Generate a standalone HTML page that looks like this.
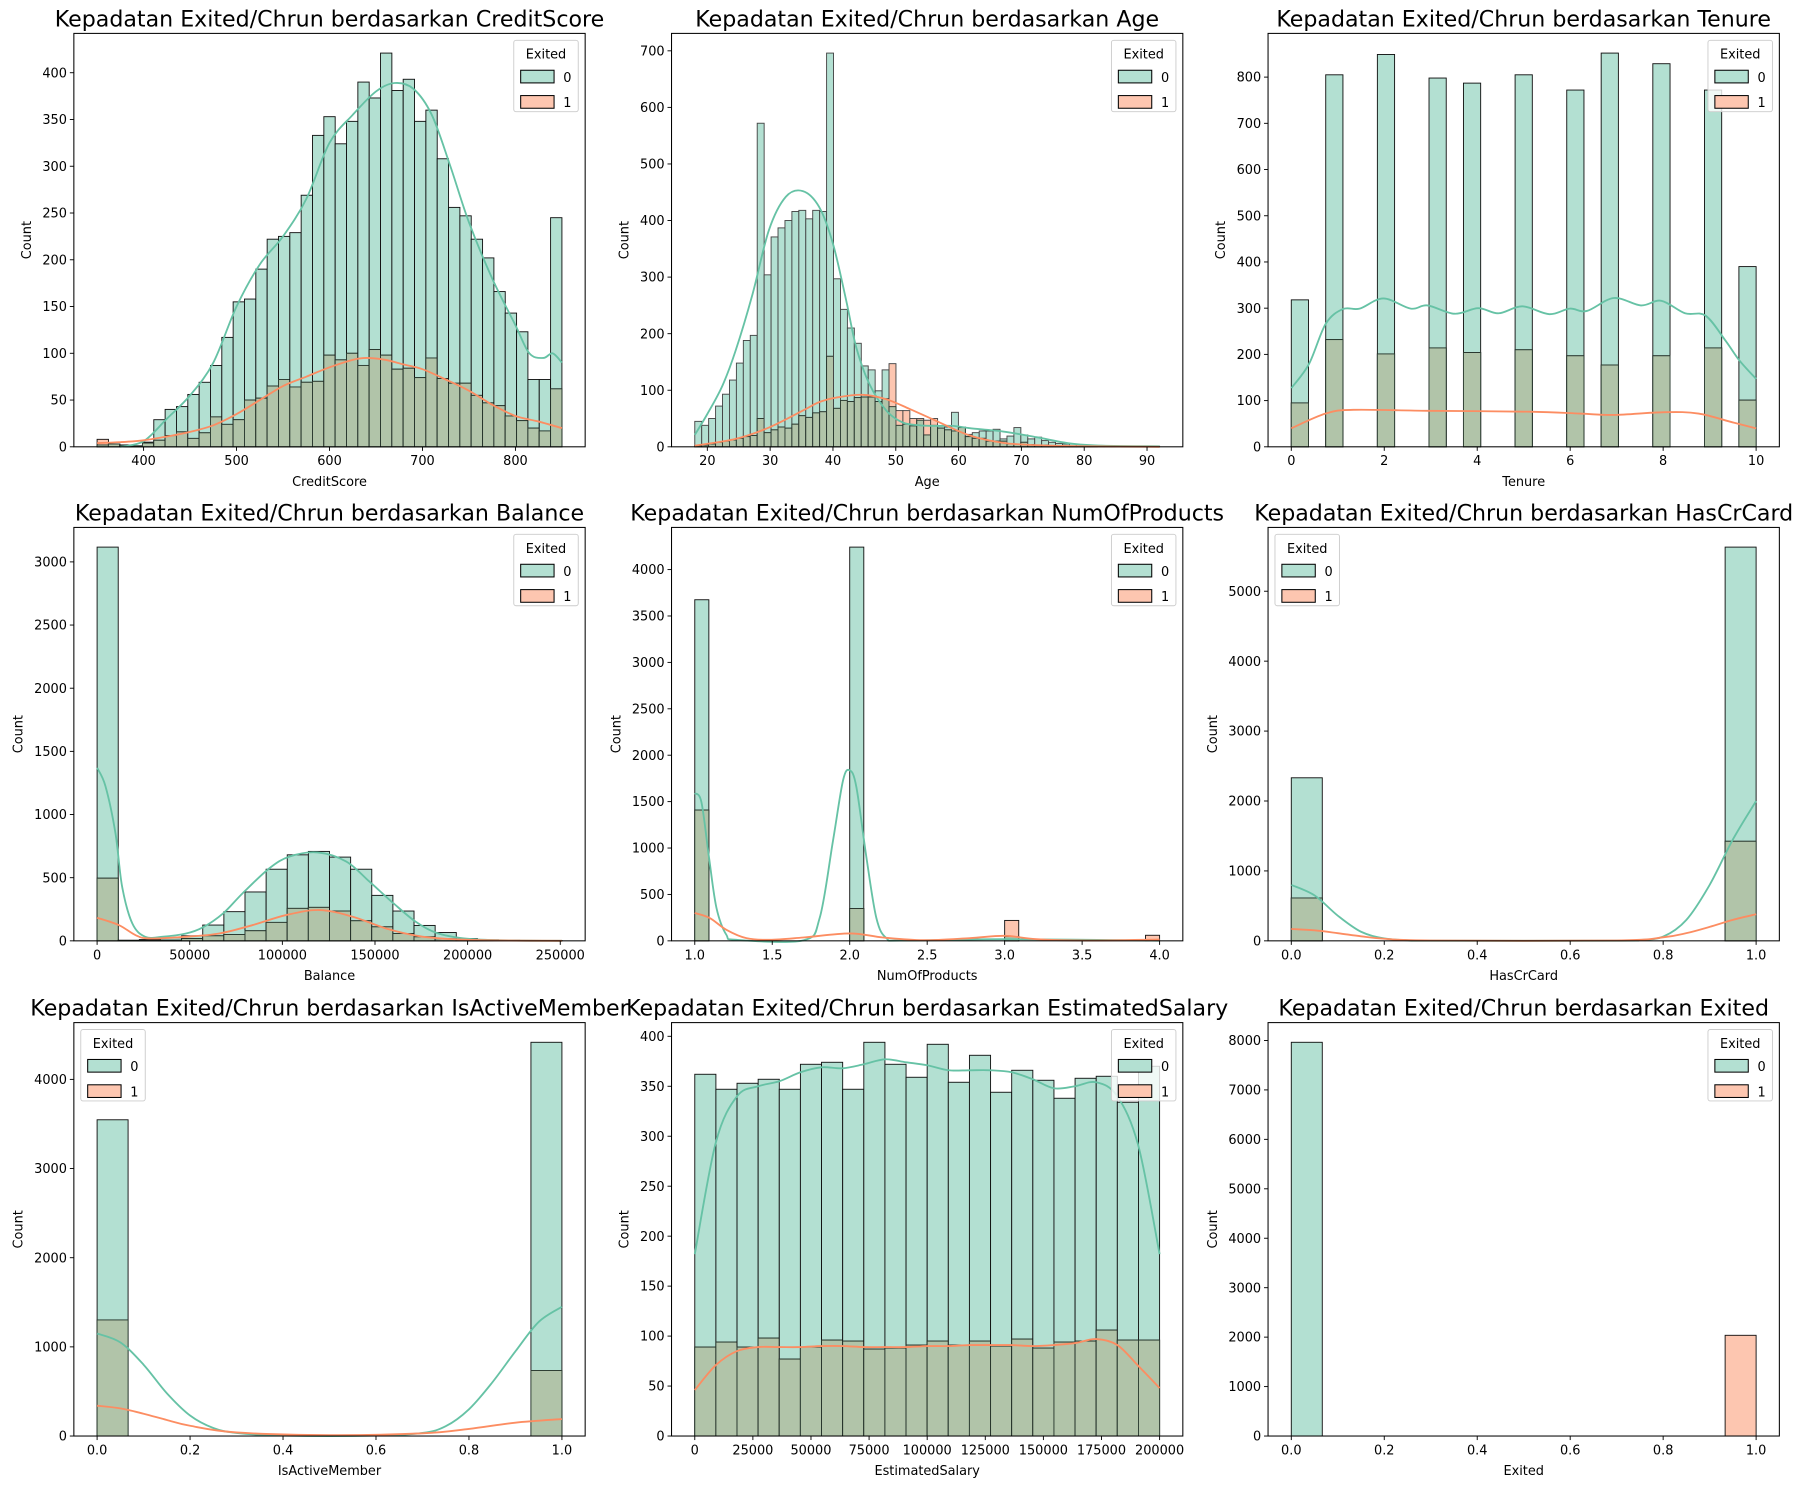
<!DOCTYPE html>
<html><head><meta charset="utf-8"><title>Kepadatan Exited/Chrun</title>
<style>html,body{margin:0;padding:0;background:#fff}svg{display:block}</style></head>
<body>
<svg id="fig" xmlns="http://www.w3.org/2000/svg" width="1806" height="1489" viewBox="0 0 1568 1293" font-family="'DejaVu Sans','Liberation Sans',sans-serif">
<rect x="0" y="0" width="1568" height="1293" fill="#fff"/>
</svg>
<script>
// ---------- data ----------
const csGreen=[2,3,2,1,5,29,40,43,56,69,87,117,155,158,190,222,225,229,269,333,353,324,348,390,373,421,381,393,348,360,308,256,247,222,202,166,143,123,72,72,245];
const csOrange=[8,3,1,1,4,7,12,16,9,15,32,24,29,50,52,65,72,64,69,70,98,93,100,87,104,98,83,84,74,95,73,68,68,55,47,44,33,28,20,17,62];
const csKdeX0=[375,400,425,450,475,500,525,550,575,600,625,650,670,690,710,730,750,775,800,815,830,840,850];
const csKdeY0=[0,6,30,55,90,150,195,225,265,325,355,380,389,383,355,300,240,180,130,100,95,100,90];
const csKdeX1=[350,375,400,425,450,475,500,525,550,575,600,625,640,660,680,700,725,750,775,800,825,850];
const csKdeY1=[4,5,7,11,16,23,35,50,65,75,85,93,95,93,88,83,72,60,45,33,27,20];

const ageGreen=[45,38,50,72,93,118,148,188,197,572,304,371,387,400,416,418,403,418,416,696,297,243,210,183,143,136,99,136,71,38,40,37,47,21,38,37,35,61,34,22,25,28,28,31,14,19,34,21,14,17,11,8,6,5,5,4,3,2,2,1,1,1,1,0,1,0,1];
const ageOrange=[2,3,5,8,10,12,15,18,20,50,25,30,35,33,40,55,52,60,62,160,68,82,80,87,88,88,80,85,147,64,64,50,50,47,50,33,30,28,35,18,15,15,10,10,10,5,5,8,4,3,3,2,2,1,1,1,1,1,0,0,1,0,0,0,0,0,0];
const ageKdeX0=[18,20,22.4,24.5,27.2,29.8,32.5,35.2,37.8,40,42.1,43.7,45.8,48.5,51.1,53.8,56.4,59.1,61.8,67.1,72.4,77.7,83,92];
const ageKdeY0=[21,58,108,170,270,383,442,452,424,359,259,176,111,64,43,38,37,37,33,27,17,6,2,1];
const ageKdeX1=[18,24.5,29.8,35.2,37.8,40.5,44.7,48.5,52.2,56.4,61.8,67.1,72.4,80,92];
const ageKdeY1=[2,14,34,64,79,87,92,84,67,46,20,7,3,1,0];

const tenGreen=[318,0,805,0,0,849,0,0,798,0,787,0,0,805,0,0,772,0,852,0,0,829,0,0,772,0,390];
const tenOrange=[95,0,232,0,0,201,0,0,214,0,204,0,0,210,0,0,197,0,177,0,0,197,0,0,214,0,101];
const tenKdeX0=[0,0.38,0.74,1.11,1.47,1.98,2.57,2.93,3.51,4.02,4.46,4.97,5.55,5.99,6.36,6.94,7.52,7.96,8.47,8.91,9.34,9.64,10];
const tenKdeY0=[127,179,266,298,299,321,299,306,288,300,289,304,287,299,294,322,306,316,289,284,230,187,147];
const tenKdeX1=[0,0.74,1.33,2.93,5.12,6.21,6.94,8.03,8.76,9.49,10];
const tenKdeY1=[40,72,80,78,76,72,69,75,72,53,40];

const balGreen=[3117,5,10,25,40,125,231,387,567,681,708,663,567,360,236,122,66,18,8,5,2,2];
const balOrange=[496,2,3,5,18,40,50,80,146,257,265,236,159,111,58,32,16,8,3,2,1,1];
const balKdeX0=[0,4500,9900,13500,19000,26000,35000,48000,57000,68000,78500,93000,104000,119000,134500,147000,160000,172000,183000,198000,216000,250898];
const balKdeY0=[1370,1225,853,430,138,32,32,58,106,217,376,575,668,700,628,469,297,151,64,19,5,0];
const balKdeX1=[0,11700,20800,28000,47800,65900,84000,102000,120000,138000,156000,174000,192000,216000,250898];
const balKdeY1=[183,125,45,19,32,58,125,204,244,191,98,37,13,3,0];

const nopGreen=[3675,0,0,0,0,0,0,0,0,0,0,4242,0,0,0,0,0,0,0,0,0,0,46,0,0,0,0,0,0,0,0,0,0];
const nopOrange=[1409,0,0,0,0,0,0,0,0,0,0,348,0,0,0,0,0,0,0,0,0,0,220,0,0,0,0,0,0,0,0,0,60];
const nopKdeX0=[1,1.043,1.092,1.14,1.204,1.27,1.70,1.806,1.892,1.957,2.0,2.043,2.108,2.172,2.237,2.344,3,4];
const nopKdeY0=[1591,1494,897,355,65,11,5,246,1078,1729,1837,1657,897,246,29,3,18,2];
const nopKdeX1=[1,1.097,1.204,1.333,1.484,1.699,2,2.215,2.473,2.774,3,3.204,3.527,4];
const nopKdeY1=[300,246,119,29,11,36,80,36,7,29,54,18,3,14];

const hccGreen=[2332,0,0,0,0,0,0,0,0,0,0,0,0,0,5631];
const hccOrange=[613,0,0,0,0,0,0,0,0,0,0,0,0,0,1424];
const hccKdeX0=[0,0.05,0.1,0.15,0.2,0.25,0.3,0.7,0.75,0.8,0.85,0.9,0.95,1];
const hccKdeY0=[800,650,360,130,35,8,2,2,12,60,300,800,1450,2000];
const hccKdeX1=[0,0.05,0.1,0.15,0.2,0.3,0.7,0.8,0.85,0.9,0.95,1];
const hccKdeY1=[170,150,110,65,30,5,5,50,110,200,300,380];

const iamGreen=[3547,0,0,0,0,0,0,0,0,0,0,0,0,0,4416];
const iamOrange=[1302,0,0,0,0,0,0,0,0,0,0,0,0,0,735];
const iamKdeX0=[0,0.05,0.1,0.15,0.2,0.25,0.3,0.4,0.6,0.7,0.75,0.8,0.85,0.9,0.95,1];
const iamKdeY0=[1150,1050,800,480,230,90,35,5,5,35,110,300,600,950,1280,1450];
const iamKdeX1=[0,0.05,0.1,0.15,0.2,0.3,0.5,0.7,0.8,0.9,1];
const iamKdeY1=[340,310,250,180,115,40,10,30,80,150,190];

const salGreen=[362,347,353,357,347,372,374,347,394,372,359,392,354,381,344,366,356,338,358,360,334,370];
const salOrange=[89,94,89,98,77,89,96,95,87,88,91,95,91,95,90,97,88,94,95,106,96,96];
const salKdeX0=[0,9091,18182,27273,36364,45455,54545,63636,72727,81818,90909,100000,109091,118182,127273,136364,145455,154545,163636,172727,181818,190909,200000];
const salKdeY0=[182,294,340,350,355,364,369,368,372,377,374,371,366,366,366,364,357,348,350,354,340,290,182];
const salKdeX1=salKdeX0;
const salKdeY1=[46,71,85,89,89,89,90,90,89,89,89,90,90,91,91,91,90,91,93,97,91,70,48];

const extGreen=[7963,0,0,0,0,0,0,0,0,0,0,0,0,0,0];
const extOrange=[0,0,0,0,0,0,0,0,0,0,0,0,0,0,2037];

const csTicksX=[400,500,600,700,800], csTicksY=[0,50,100,150,200,250,300,350,400];
const ageTicksX=[20,30,40,50,60,70,80,90], ageTicksY=[0,100,200,300,400,500,600,700];
const tenTicksX=[0,2,4,6,8,10], tenTicksY=[0,100,200,300,400,500,600,700,800];
const balTicksX=[0,50000,100000,150000,200000,250000], balTicksY=[0,500,1000,1500,2000,2500,3000];
const nopTicksX=[1,1.5,2,2.5,3,3.5,4], nopTicksY=[0,500,1000,1500,2000,2500,3000,3500,4000];
const binTicksX=[0,0.2,0.4,0.6,0.8,1];
const hccTicksY=[0,1000,2000,3000,4000,5000];
const iamTicksY=[0,1000,2000,3000,4000];
const salTicksX=[0,25000,50000,75000,100000,125000,150000,175000,200000], salTicksY=[0,50,100,150,200,250,300,350,400];
const extTicksY=[0,1000,2000,3000,4000,5000,6000,7000,8000];

// ---------- layout ----------
const NS='http://www.w3.org/2000/svg';
const svg=document.getElementById('fig');
const AW=444, AH=359;
const FS=11.2, TFS=19.2;
const panels=[
 {key:'creditscore',col:0,row:0,feat:'CreditScore',range:[350,850],g:csGreen,o:csOrange,kx0:csKdeX0,ky0:csKdeY0,kx1:csKdeX1,ky1:csKdeY1,tx:csTicksX,ty:csTicksY,dec:0,leg:'r',edge:'#111'},
 {key:'age',col:1,row:0,feat:'Age',range:[18,92],g:ageGreen,o:ageOrange,kx0:ageKdeX0,ky0:ageKdeY0,kx1:ageKdeX1,ky1:ageKdeY1,tx:ageTicksX,ty:ageTicksY,dec:0,leg:'r',edge:'#444'},
 {key:'tenure',col:2,row:0,feat:'Tenure',range:[0,10],g:tenGreen,o:tenOrange,kx0:tenKdeX0,ky0:tenKdeY0,kx1:tenKdeX1,ky1:tenKdeY1,tx:tenTicksX,ty:tenTicksY,dec:0,leg:'r',edge:'#111'},
 {key:'balance',col:0,row:1,feat:'Balance',range:[0,250898],g:balGreen,o:balOrange,kx0:balKdeX0,ky0:balKdeY0,kx1:balKdeX1,ky1:balKdeY1,tx:balTicksX,ty:balTicksY,dec:0,leg:'r',edge:'#111'},
 {key:'numofproducts',col:1,row:1,feat:'NumOfProducts',range:[1,4],g:nopGreen,o:nopOrange,kx0:nopKdeX0,ky0:nopKdeY0,kx1:nopKdeX1,ky1:nopKdeY1,tx:nopTicksX,ty:nopTicksY,dec:1,leg:'r',edge:'#111'},
 {key:'hascrcard',col:2,row:1,feat:'HasCrCard',range:[0,1],g:hccGreen,o:hccOrange,kx0:hccKdeX0,ky0:hccKdeY0,kx1:hccKdeX1,ky1:hccKdeY1,tx:binTicksX,ty:hccTicksY,dec:1,leg:'l',edge:'#111'},
 {key:'isactivemember',col:0,row:2,feat:'IsActiveMember',range:[0,1],g:iamGreen,o:iamOrange,kx0:iamKdeX0,ky0:iamKdeY0,kx1:iamKdeX1,ky1:iamKdeY1,tx:binTicksX,ty:iamTicksY,dec:1,leg:'l',edge:'#111'},
 {key:'estimatedsalary',col:1,row:2,feat:'EstimatedSalary',range:[0,200000],g:salGreen,o:salOrange,kx0:salKdeX0,ky0:salKdeY0,kx1:salKdeX1,ky1:salKdeY1,tx:salTicksX,ty:salTicksY,dec:0,leg:'r',edge:'#111'},
 {key:'exited',col:2,row:2,feat:'Exited',range:[0,1],g:extGreen,o:extOrange,kx0:null,ky0:null,kx1:null,ky1:null,tx:binTicksX,ty:extTicksY,dec:1,leg:'r',edge:'#111'}
];
const colX=[64,583,1101], rowY=[29,458,888];

function mk(tag,attrs,parent){const e=document.createElementNS(NS,tag);for(const k in attrs)e.setAttribute(k,attrs[k]);if(parent)parent.appendChild(e);return e;}
function smooth(pts){
 if(pts.length<2)return '';
 let d='M'+pts[0][0].toFixed(2)+','+pts[0][1].toFixed(2);
 for(let i=0;i<pts.length-1;i++){
  const p0=pts[i-1]||pts[i],p1=pts[i],p2=pts[i+1],p3=pts[i+2]||p2;
  const c1=[p1[0]+(p2[0]-p0[0])/6,p1[1]+(p2[1]-p0[1])/6];
  const c2=[p2[0]-(p3[0]-p1[0])/6,p2[1]-(p3[1]-p1[1])/6];
  d+=' C'+c1[0].toFixed(2)+','+c1[1].toFixed(2)+' '+c2[0].toFixed(2)+','+c2[1].toFixed(2)+' '+p2[0].toFixed(2)+','+p2[1].toFixed(2);
 }
 return d;
}

panels.forEach(p=>{
 const L=colX[p.col],T=rowY[p.row],B=T+AH,R=L+AW;
 const span=p.range[1]-p.range[0];
 const xlim=[p.range[0]-0.05*span,p.range[1]+0.05*span];
 const ymax=Math.max(...p.g,...p.o)*1.05;
 const sx=v=>L+(v-xlim[0])/(xlim[1]-xlim[0])*AW;
 const sy=v=>B-v/ymax*AH;
 const g=mk('g',{},svg);
 
 

 const n=p.g.length, bw=span/n;
 for(let i=0;i<n;i++){
  const x0=sx(p.range[0]+i*bw), x1=sx(p.range[0]+(i+1)*bw);
  const a=p.g[i], b=p.o[i], lo=Math.min(a,b);
  if(a>0){const r=mk('rect',{x:x0,y:sy(a),width:x1-x0,height:B-sy(a),fill:'#b3e0d2',stroke:p.edge,'stroke-width':0.8},g);
   
   }
  if(b>0){const r=mk('rect',{x:x0,y:sy(b),width:x1-x0,height:B-sy(b),fill:'#fdc6b0',stroke:p.edge,'stroke-width':0.8},g);
   
   }
  if(lo>0){const r=mk('rect',{x:x0,y:sy(lo),width:x1-x0,height:B-sy(lo),fill:'#b1c4a9',stroke:'#2a3a30','stroke-width':0.8},g);
   
   }
 }
 if(p.kx0){
  const k0=mk('path',{d:smooth(p.kx0.map((x,i)=>[sx(x),sy(p.ky0[i])])),fill:'none',stroke:'#66c2a5','stroke-width':1.6},g);
  
  
  const k1=mk('path',{d:smooth(p.kx1.map((x,i)=>[sx(x),sy(p.ky1[i])])),fill:'none',stroke:'#fc8d62','stroke-width':1.6},g);
  
  
 }
 const fr=mk('rect',{x:L,y:T,width:AW,height:AH,fill:'none',stroke:'#000','stroke-width':0.9},g);
 
 
 p.tx.forEach(v=>{
  const x=sx(v);
  mk('line',{x1:x,y1:B,x2:x,y2:B+3.5,stroke:'#000','stroke-width':0.8},g);
  const t=mk('text',{x:x,y:B+16,'font-size':FS,'text-anchor':'middle',fill:'#000'},g);
  t.textContent=p.dec?v.toFixed(p.dec):String(v);
  
  
 });
 let maxLen=0;
 p.ty.forEach(v=>{
  const y=sy(v);
  mk('line',{x1:L-3.5,y1:y,x2:L,y2:y,stroke:'#000','stroke-width':0.8},g);
  const t=mk('text',{x:L-6,y:y+4,'font-size':FS,'text-anchor':'end',fill:'#000'},g);
  t.textContent=String(v);
  maxLen=Math.max(maxLen,String(v).length);
  
  
 });
 const xl=mk('text',{x:L+AW/2,y:B+34,'font-size':FS,'text-anchor':'middle',fill:'#000'},g);
 xl.textContent=p.feat;
 
 
 const yx=L-10-maxLen*7.1-6;
 const yl=mk('text',{x:yx,y:T+AH/2,'font-size':FS,'text-anchor':'middle',fill:'#000',transform:'rotate(-90 '+yx+' '+(T+AH/2)+')'},g);
 yl.textContent='Count';
 
 
 const tt=mk('text',{x:L+AW/2,y:T-6,'font-size':TFS,'text-anchor':'middle',fill:'#000'},g);
 tt.textContent='Kepadatan Exited/Chrun berdasarkan '+p.feat;
 
 
 const lw=56,lh=62;
 const lx=p.leg==='r'?R-6-lw:L+6, ly=T+6;
 const lg=mk('g',{},g);
 
 
 mk('rect',{x:lx,y:ly,width:lw,height:lh,rx:2,fill:'#fff','fill-opacity':0.8,stroke:'#ccc','stroke-width':0.8},lg);
 const lt=mk('text',{x:lx+lw/2,y:ly+16,'font-size':FS,'text-anchor':'middle',fill:'#000'},lg);
 lt.textContent='Exited';
 
 
 [['0','#b3e0d2'],['1','#fdc6b0']].forEach((e,i)=>{
  const yy=ly+26+i*22;
  const sw=mk('rect',{x:lx+6,y:yy,width:29,height:11,fill:e[1],stroke:'#000','stroke-width':0.9},lg);
  
  
  const lbl=mk('text',{x:lx+43,y:yy+10,'font-size':FS,fill:'#000'},lg);
  lbl.textContent=e[0];
  
  
 });
});
</script>
</body></html>
